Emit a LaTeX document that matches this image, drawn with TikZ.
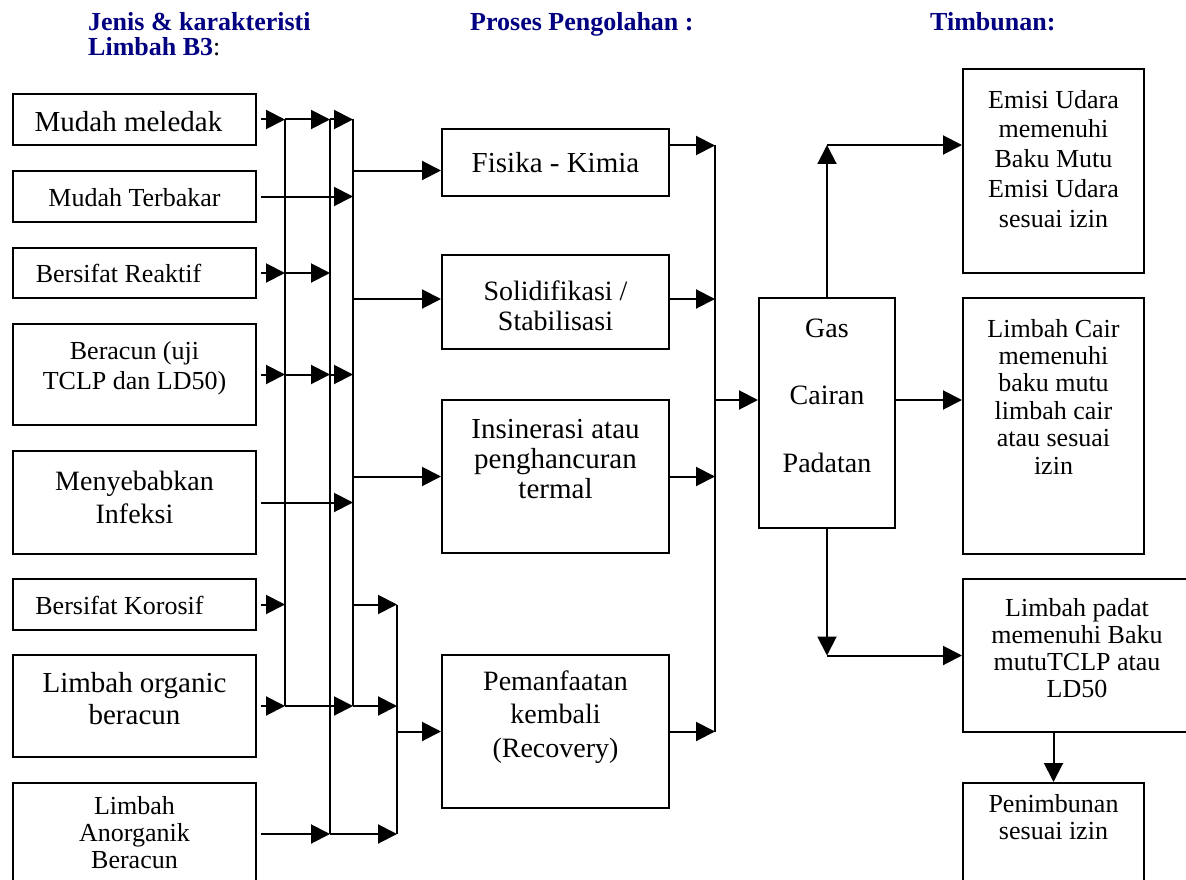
\documentclass[tikz,border=0pt]{standalone}
\usepackage{fontspec}
\setmainfont{Liberation Serif}
\usetikzlibrary{arrows.meta}
\definecolor{hdrblue}{RGB}{0,0,128}
% isi kotak: rata atas (dengan jarak) atau rata tengah
\newcommand{\celltop}[4]{\parbox[c][#2][t]{#1}{\centering\vspace*{#3}\strut#4\par}}
\newcommand{\cellmid}[3]{\parbox[c][#2][c]{#1}{\centering\vspace*{7pt}\strut#3\par}}

\begin{document}
\begin{tikzpicture}[x=1pt,y=-1pt,
    cell/.style={draw, line width=2pt, inner sep=0pt, anchor=north west,
                 font=\fontsize{26}{30}\selectfont},
    hdr/.style={inner sep=0pt, anchor=base west, text=hdrblue,
                font=\fontsize{26}{30}\selectfont\bfseries},
    wire/.style={line width=2pt},
    arr/.style={wire, -{Triangle[length=19pt,width=19pt]}}]

  \useasboundingbox (0,0) rectangle (1186,880);
  \clip (0,0) rectangle (1186,880);

  % judul kolom
  \node[hdr] (hjenis)  at (88,31)  {Jenis \& karakteristi};
  \node[hdr] (hlimbah) at (88,56)  {Limbah B3{\mdseries\color{black}:}};
  \node[hdr] (hproses) at (470,31) {Proses Pengolahan :};
  \node[hdr] (htimbun) at (930,31) {Timbunan:};

  % jenis limbah
  \node[cell, font=\fontsize{29}{32}\selectfont] (meledak) at (12,93)
       {\celltop{243pt}{51pt}{15pt}{Mudah meledak\hspace*{12pt}}};
  \node[cell] (terbakar) at (12,170) {\cellmid{243pt}{51pt}{Mudah Terbakar}};
  \node[cell] (reaktif) at (12,247)  {\cellmid{243pt}{50pt}{Bersifat Reaktif\hspace*{32pt}}};
  \node[cell] (beracun) at (12,323)  {\celltop{243pt}{101pt}{14pt}{Beracun (uji\\TCLP dan LD50)}};
  \node[cell, font=\fontsize{28}{33}\selectfont] (infeksi) at (12,450)
       {\celltop{243pt}{103pt}{16pt}{Menyebabkan\\Infeksi}};
  \node[cell] (korosif) at (12,578)  {\cellmid{243pt}{51pt}{Bersifat Korosif\hspace*{30pt}}};
  \node[cell, font=\fontsize{29}{32}\selectfont] (organik) at (12,654)
       {\celltop{243pt}{102pt}{15pt}{Limbah organic\\beracun}};
  \node[cell, font=\fontsize{26}{27}\selectfont] (anorganik) at (12,782)
       {\celltop{243pt}{102pt}{13pt}{Limbah\\Anorganik\\Beracun}};

  % proses pengolahan
  \node[cell, font=\fontsize{29}{32}\selectfont] (fiskim) at (441,128)
       {\cellmid{227pt}{67pt}{Fisika - Kimia}};
  \node[cell, font=\fontsize{28}{30}\selectfont] (solid) at (441,254)
       {\cellmid{227pt}{94pt}{Solidifikasi /\\Stabilisasi}};
  \node[cell, font=\fontsize{29}{30}\selectfont] (insin) at (441,399)
       {\celltop{227pt}{153pt}{17pt}{Insinerasi atau\\penghancuran\\termal}};
  \node[cell, font=\fontsize{28}{33.5}\selectfont] (manfaat) at (441,654)
       {\celltop{227pt}{153pt}{12pt}{Pemanfaatan\\kembali\\(Recovery)}};

  \node[cell, font=\fontsize{28}{33}\selectfont] (fase) at (758,297)
       {\celltop{136pt}{230pt}{16pt}{Gas\\[34pt]Cairan\\[35pt]Padatan}};

  % timbunan
  \node[cell] (emisi) at (962,68)
       {\celltop{181pt}{204pt}{18pt}{Emisi Udara\\memenuhi\\Baku Mutu\\Emisi Udara\\sesuai izin}};
  \node[cell, font=\fontsize{26}{27.4}\selectfont] (cair) at (962,297)
       {\celltop{181pt}{256pt}{20pt}{Limbah Cair\\memenuhi\\baku mutu\\limbah cair\\atau sesuai\\izin}};
  \node[cell, font=\fontsize{26}{27}\selectfont] (padat) at (962,578)
       {\celltop{228pt}{153pt}{19pt}{Limbah padat\\memenuhi Baku\\mutuTCLP atau\\LD50}};
  \node[cell, font=\fontsize{26}{27}\selectfont] (timbun) at (962,782)
       {\celltop{181pt}{130pt}{11pt}{Penimbunan\\sesuai izin}};

  % titik cabang pada tiap baris
  \foreach \b in {meledak,terbakar,reaktif,beracun,infeksi,korosif,organik,anorganik}
    \path (\b.east) ++(28,0) coordinate (\b-a) ++(45,0) coordinate (\b-b)
          ++(23,0) coordinate (\b-c) ++(44,0) coordinate (\b-d);

  \draw[arr, shorten <=4pt] (meledak.east) -- (meledak-a);
  \draw[arr] (meledak-a) -- (meledak-b);
  \draw[arr] (meledak-b) -- (meledak-c);
  \draw[arr, shorten <=4pt] (terbakar.east) -- (terbakar-c);
  \draw[arr, shorten <=4pt] (reaktif.east) -- (reaktif-a);
  \draw[arr] (reaktif-a) -- (reaktif-b);
  \draw[arr, shorten <=4pt] (beracun.east) -- (beracun-a);
  \draw[arr] (beracun-a) -- (beracun-b);
  \draw[arr] (beracun-b) -- (beracun-c);
  \draw[arr, shorten <=4pt] (infeksi.east) -- (infeksi-c);
  \draw[arr, shorten <=4pt] (korosif.east) -- (korosif-a);
  \draw[arr] (korosif-c) -- (korosif-d);
  \draw[arr, shorten <=4pt] (organik.east) -- (organik-a);
  \draw[arr] (organik-a) -- (organik-c);
  \draw[arr] (organik-c) -- (organik-d);
  \draw[arr, shorten <=4pt] (anorganik.east) -- (anorganik-b);
  \draw[arr] (anorganik-b) -- (anorganik-d);

  \draw[wire] (meledak-a) -- (organik-a);
  \draw[wire] (meledak-b) -- (anorganik-b);
  \draw[wire] (meledak-c) -- (organik-c);
  \draw[wire] (korosif-d) -- (anorganik-d);

  % masuk ke proses
  \coordinate (fis-in) at ([yshift=-8pt]fiskim.west);
  \coordinate (sol-in) at ([yshift=3pt]solid.west);
  \draw[arr] (fis-in -| meledak-c) -- (fis-in);
  \draw[arr] (sol-in -| meledak-c) -- (sol-in);
  \draw[arr] (insin.west -| meledak-c) -- (insin.west);
  \draw[arr] (manfaat.west -| korosif-d) -- (manfaat.west);

  % keluar dari proses
  \coordinate (fis-out) at ([yshift=17pt]fiskim.east);
  \coordinate (sol-out) at ([yshift=3pt]solid.east);
  \path (fis-out) ++(45,0) coordinate (e1);
  \draw[arr] (fis-out) -- (e1);
  \draw[arr] (sol-out) -- (sol-out -| e1);
  \draw[arr] (insin.east) -- (insin.east -| e1);
  \draw[arr] (manfaat.east) -- (manfaat.east -| e1);
  \draw[wire] (e1) -- (manfaat.east -| e1);

  \coordinate (fase-in) at ([yshift=13pt]fase.west);
  \draw[arr] (fase-in -| e1) -- (fase-in);

  % hasil olahan
  \coordinate (emisi-in) at ([yshift=26pt]emisi.west);
  \coordinate (cair-in) at ([yshift=26pt]cair.west);
  \draw[arr] (fase.north) -- (fase.north |- emisi-in);
  \draw[arr] (fase.north |- emisi-in) -- (emisi-in);
  \draw[arr] (fase.east |- cair-in) -- (cair-in);
  \draw[arr] (fase.south) -- (fase.south |- padat.west);
  \draw[arr] (fase.south |- padat.west) -- (padat.west);
  \draw[arr] (timbun.north |- padat.south) -- (timbun.north);
\end{tikzpicture}
\end{document}
